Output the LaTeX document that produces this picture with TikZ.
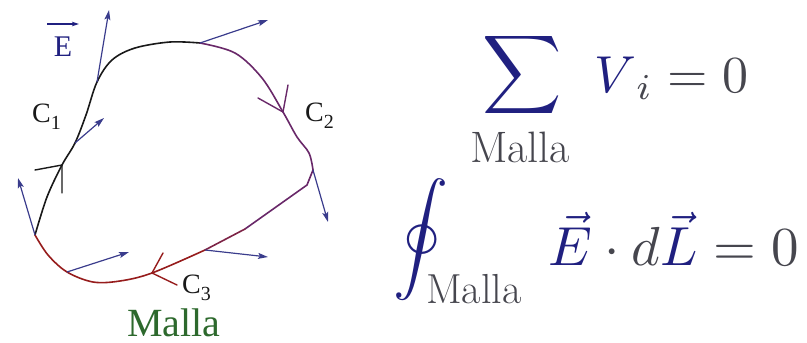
\documentclass[tikz,border=0pt]{standalone}
\usepackage{amsmath}
\usepackage{graphicx}
\usepackage{fontspec}
\newfontfamily\labfont{Liberation Serif}
\usetikzlibrary{arrows.meta}
\definecolor{eqblue}{RGB}{32,32,128}
\definecolor{eqgray}{RGB}{70,70,78}
\definecolor{fieldblue}{RGB}{58,60,140}
\definecolor{cblack}{RGB}{25,25,25}
\definecolor{cpurple}{RGB}{105,40,105}
\definecolor{cmid}{RGB}{125,35,70}
\definecolor{cred}{RGB}{150,28,28}
\definecolor{mallagreen}{RGB}{45,105,45}
\newcommand{\bigmath}[2][5.5]{\scalebox{#1}{$\displaystyle #2$}}
\tikzset{
  loopline/.style={line width=1.6pt, line cap=round, line join=round},
  chevron/.style={line width=1.4pt, line cap=round, line join=miter},
  field/.style={fieldblue, line width=1.2pt, -{Stealth[length=10pt,width=6pt,inset=2pt]}},
  lab/.style={inner sep=0pt, font=\labfont\fontsize{28}{28}\selectfont},
  eq/.style={inner sep=0pt, font=\normalsize, text=eqgray},
  sub/.style={inner sep=0pt, font=\fontsize{44}{48}\selectfont, text=eqgray}
}
\begin{document}
\begin{tikzpicture}[x=1pt,y=-1pt]
\useasboundingbox (0,0) rectangle (807,343);
% key points of the loop
\coordinate (p0) at (35,235);
\coordinate (p1) at (62,165);
\coordinate (p2) at (75,143);
\coordinate (p3) at (97,82);
\coordinate (p4) at (200,43);
\coordinate (p5) at (283,112);
\coordinate (p6) at (313,170);
\coordinate (p7) at (245,229);
\coordinate (p8) at (205,250);
\coordinate (p9) at (152,273);
\coordinate (p10) at (67,272);
% C1 (black)
\draw[loopline, cblack] plot[smooth, tension=0.55] coordinates
  {(35,235) (47,197) (62,165) (75,143) (86,115) (97,82) (112,60) (135,48) (170,42) (200,43)};
% C2 (purple)
\draw[loopline, cpurple] plot[smooth, tension=0.55] coordinates
  {(200,43) (235,53) (262,78) (283,112) (297,137) (309,153) (313,170)};
\draw[loopline, cpurple] (p6) -- (307,185) -- (p7);
% C3 (purple to red)
\draw[loopline, cmid] (p7) -- (p8);
\draw[loopline, cred] plot[smooth, tension=0.55] coordinates
  {(205,250) (152,273) (120,281) (93,282) (67,272) (48,255) (35,235)};
% direction chevrons
\draw[chevron, cblack] (35,170) -- (p1) -- (62,193);
\draw[chevron, cpurple] (258,98) -- (p5) -- (288,85);
\draw[chevron, cred] (163,253) -- (p9) -- (177,285);
% field vectors
\coordinate (e1) at (109,10);
\coordinate (e2) at (104,118);
\coordinate (e3) at (268,20);
\coordinate (e4) at (328,222);
\coordinate (e5) at (268,257);
\coordinate (e6) at (129,252);
\coordinate (e7) at (18,178);
\draw[field] (p3) -- (e1);
\draw[field] (p2) -- (e2);
\draw[field] (p4) -- (e3);
\draw[field] (p6) -- (e4);
\draw[field] (p8) -- (e5);
\draw[field] (p10) -- (e6);
\draw[field] (p0) -- (e7);
% labels
\node[lab, text=eqblue, font=\labfont\fontsize{30}{30}\selectfont] (E) at (63,47) {E};
\coordinate (ea) at (47,24);
\coordinate (eb) at (79,24);
\draw[eqblue, line width=1.1pt, -{Stealth[length=7pt,width=4.5pt,inset=1.5pt]}] (ea) -- (eb);
\node[lab, text=cblack, anchor=base west] (C1) at (32,122) {C\raisebox{-7pt}{\fontsize{20}{20}\selectfont 1}};
\node[lab, text=cblack, anchor=base west] (C2) at (305,121) {C\raisebox{-7pt}{\fontsize{20}{20}\selectfont 2}};
\node[lab, text=cblack, anchor=base west] (C3) at (182,293) {C\raisebox{-7pt}{\fontsize{20}{20}\selectfont 3}};
\node[inner sep=0pt, anchor=base, text=mallagreen, font=\labfont\fontsize{40}{40}\selectfont] (malla) at (174,336) {Malla};
% equations
\node[eq, text=eqblue] (sum) at (522,75) {\bigmath{\sum}};
\node[eq, anchor=base west] (vi) at (594,92) {\bigmath[5.2]{\textcolor{eqblue}{V}_i = 0}};
\node[sub, anchor=base] (m1) at (520,162) {Malla};
\node[eq, text=eqblue] (oint) at (421,240) {\bigmath{\oint}};
\node[sub, anchor=base west, font=\fontsize{42}{44}\selectfont] (m2) at (426,303) {Malla};
\node[eq, anchor=base west] (edl) at (548,265) {\bigmath{\textcolor{eqblue}{\vec{E}}\cdot d\textcolor{eqblue}{\vec{L}} = 0}};
\end{tikzpicture}
\end{document}
